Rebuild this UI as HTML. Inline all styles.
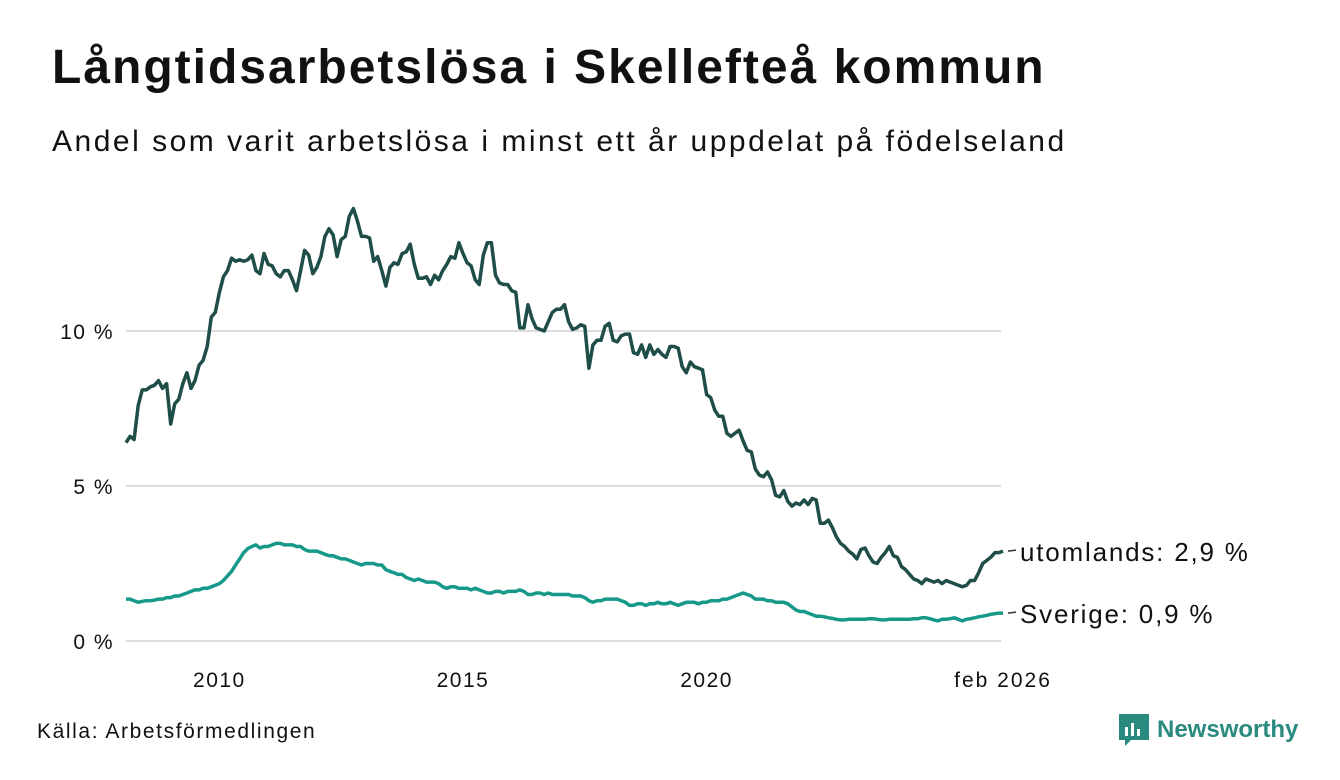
<!DOCTYPE html>
<html><head><meta charset="utf-8">
<style>
body{margin:0;background:#fff;width:1340px;height:780px;overflow:hidden;font-family:"Liberation Sans",sans-serif;color:#111}
#title{position:absolute;left:52px;top:40px;font-size:48px;letter-spacing:2px;font-weight:bold;margin:0;white-space:nowrap}
#sub{position:absolute;left:52px;top:125px;font-size:30px;letter-spacing:2.5px;white-space:nowrap}
#src{position:absolute;left:37px;top:720px;font-size:21px;letter-spacing:1.6px}
#logo{position:absolute;left:1119px;top:714px;font-size:24px;font-weight:bold;color:#2a8a7f;display:flex;align-items:center;gap:8px}
</style></head><body>
<h1 id="title">Långtidsarbetslösa i Skellefteå kommun</h1>
<div id="sub">Andel som varit arbetslösa i minst ett år uppdelat på födelseland</div>
<svg id="chart" width="1340" height="780" style="position:absolute;left:0;top:0"></svg>
<div id="src">Källa: Arbetsförmedlingen</div>
<div id="logo"><svg width="30" height="32" viewBox="0 0 30 32"><path d="M0 0h30v26H12l-6 6v-6H0z" fill="#2a8a7f"/><rect x="6" y="13" width="3" height="9" fill="#fff"/><rect x="12" y="9" width="3" height="13" fill="#fff"/><rect x="18" y="15" width="3" height="7" fill="#fff"/></svg><span>Newsworthy</span></div>
<script>
const startYear = 2008, startMonth = 2;
const foreignVals = [6.4,6.6,6.5,7.6,8.1,8.1,8.2,8.25,8.4,8.15,8.3,
7.0,7.65,7.8,8.3,8.65,8.15,8.4,8.9,9.05,9.5,10.45,10.6,
11.25,11.75,11.95,12.35,12.25,12.3,12.25,12.3,12.45,11.95,11.85,12.5,
12.15,12.1,11.85,11.75,11.95,11.95,11.65,11.3,11.95,12.6,12.45,11.85,
12.05,12.4,13.05,13.3,13.1,12.4,12.95,13.05,13.7,13.95,13.55,13.05,
13.05,13.0,12.25,12.4,11.95,11.45,12.05,12.2,12.15,12.5,12.55,12.8,
12.15,11.7,11.7,11.75,11.5,11.8,11.65,11.95,12.15,12.4,12.35,12.85,
12.5,12.2,12.1,11.65,11.5,12.45,12.85,12.85,11.8,11.55,11.5,11.5,
11.3,11.25,10.1,10.1,10.85,10.4,10.1,10.05,10.0,10.3,10.6,10.7,
10.7,10.85,10.3,10.05,10.1,10.2,10.15,8.8,9.55,9.7,9.7,10.15,
10.25,9.7,9.65,9.85,9.9,9.9,9.3,9.25,9.55,9.15,9.55,9.25,
9.4,9.25,9.15,9.5,9.5,9.45,8.85,8.65,9.0,8.85,8.8,8.75,
7.95,7.85,7.45,7.25,7.25,6.7,6.6,6.7,6.8,6.45,6.15,6.1,
5.55,5.35,5.3,5.45,5.2,4.7,4.65,4.85,4.5,4.35,4.45,4.4,
4.55,4.4,4.6,4.55,3.8,3.8,3.9,3.65,3.35,3.15,3.05,2.9,
2.8,2.65,2.95,3.0,2.75,2.55,2.5,2.7,2.85,3.05,2.75,2.7,
2.4,2.3,2.15,2.0,1.95,1.85,2.0,1.95,1.9,1.95,1.85,1.95,
1.9,1.85,1.8,1.75,1.8,1.95,1.95,2.2,2.5,2.6,2.7,2.85,
2.85,2.9];
const swedenVals = [1.35,1.35,1.3,1.25,1.28,1.3,1.3,1.32,1.35,1.35,1.4,
1.4,1.45,1.45,1.5,1.55,1.6,1.65,1.65,1.7,1.7,1.75,1.8,
1.85,1.95,2.1,2.25,2.45,2.65,2.85,2.98,3.05,3.1,3.0,3.05,
3.05,3.1,3.15,3.15,3.1,3.1,3.1,3.05,3.05,2.95,2.9,2.9,
2.9,2.85,2.8,2.75,2.75,2.7,2.65,2.65,2.6,2.55,2.5,2.45,
2.5,2.5,2.5,2.45,2.45,2.3,2.25,2.2,2.15,2.15,2.05,2.0,
1.95,2.0,1.95,1.9,1.9,1.9,1.85,1.75,1.7,1.75,1.75,1.7,
1.7,1.7,1.65,1.7,1.65,1.6,1.55,1.55,1.6,1.6,1.55,1.6,
1.6,1.6,1.65,1.6,1.5,1.5,1.55,1.55,1.5,1.55,1.5,1.5,
1.5,1.5,1.5,1.45,1.45,1.45,1.4,1.3,1.25,1.3,1.3,1.35,
1.35,1.35,1.35,1.3,1.25,1.15,1.15,1.2,1.2,1.15,1.2,1.2,
1.25,1.2,1.2,1.25,1.2,1.15,1.2,1.25,1.25,1.25,1.2,1.25,
1.25,1.3,1.3,1.3,1.35,1.35,1.4,1.45,1.5,1.55,1.5,1.45,
1.35,1.35,1.35,1.3,1.3,1.25,1.25,1.25,1.2,1.1,1.0,0.95,
0.95,0.9,0.85,0.8,0.8,0.78,0.75,0.73,0.7,0.68,0.68,0.7,
0.7,0.7,0.7,0.7,0.72,0.72,0.7,0.68,0.68,0.7,0.7,0.7,
0.7,0.7,0.7,0.72,0.72,0.75,0.75,0.72,0.68,0.65,0.7,0.7,
0.72,0.75,0.7,0.65,0.7,0.72,0.75,0.78,0.8,0.83,0.86,0.88,
0.9,0.9];
const yTicks = [0,5,10];
const yTickLabels = ["0 %","5 %","10 %"];
const xTicks = [2010,2015,2020];
const seriesLabels = ["utomlands: 2,9 %","Sverige: 0,9 %"];

const NS="http://www.w3.org/2000/svg";
const svg=document.getElementById('chart');
const X0=126, X1=1003, Y0=641, pxPerPct=31;
const n=foreignVals.length;
const tStart=startYear+(startMonth-1)/12;
const tEnd=tStart+(n-1)/12;
const x=t=>X0+(t-tStart)/(tEnd-tStart)*(X1-X0);
const y=v=>Y0-v*pxPerPct;
function mk(tag,attrs){const e=document.createElementNS(NS,tag);for(const k in attrs)e.setAttribute(k,attrs[k]);svg.appendChild(e);return e;}
const F='Liberation Sans, sans-serif';
yTicks.forEach((v,i)=>{
  const g=mk('line',{x1:126,x2:1001,y1:y(v),y2:y(v),stroke:'#dcdce0','stroke-width':2});
  
  
  const t=mk('text',{x:114,y:y(v)+8,'text-anchor':'end','font-size':21,'letter-spacing':1.5,fill:'#111','font-family':F});
  t.textContent=yTickLabels[i];
  
  
});
xTicks.forEach(yr=>{
  const t=mk('text',{x:x(yr),y:687,'text-anchor':'middle','font-size':21,'letter-spacing':1.5,fill:'#111','font-family':F});
  t.textContent=yr;
  
  
});
const lt=mk('text',{x:x(tEnd),y:687,'text-anchor':'middle','font-size':21,'letter-spacing':2,fill:'#111','font-family':F});
lt.textContent='feb 2026';


function line(vals,color,name,label){
  const d=vals.map((v,i)=>(i?'L':'M')+x(tStart+i/12).toFixed(1)+' '+y(v).toFixed(1)).join(' ');
  const p=mk('path',{d:d,fill:'none',stroke:color,'stroke-width':3.5,'stroke-linejoin':'round'});
  
  
  const ly=y(vals[vals.length-1]);
  const tick=mk('line',{x1:1008,x2:1016,y1:ly,y2:ly-1,stroke:'#333','stroke-width':1.5});
  
  
  const t=mk('text',{x:1020,y:ly+10,'font-size':26,'letter-spacing':1.8,fill:'#111','font-family':F});
  t.textContent=label;
  
  
}
line(foreignVals,'#1f4d47','line-utomlands',seriesLabels[0]);
line(swedenVals,'#17998a','line-sverige',seriesLabels[1]);
</script>
</body></html>
